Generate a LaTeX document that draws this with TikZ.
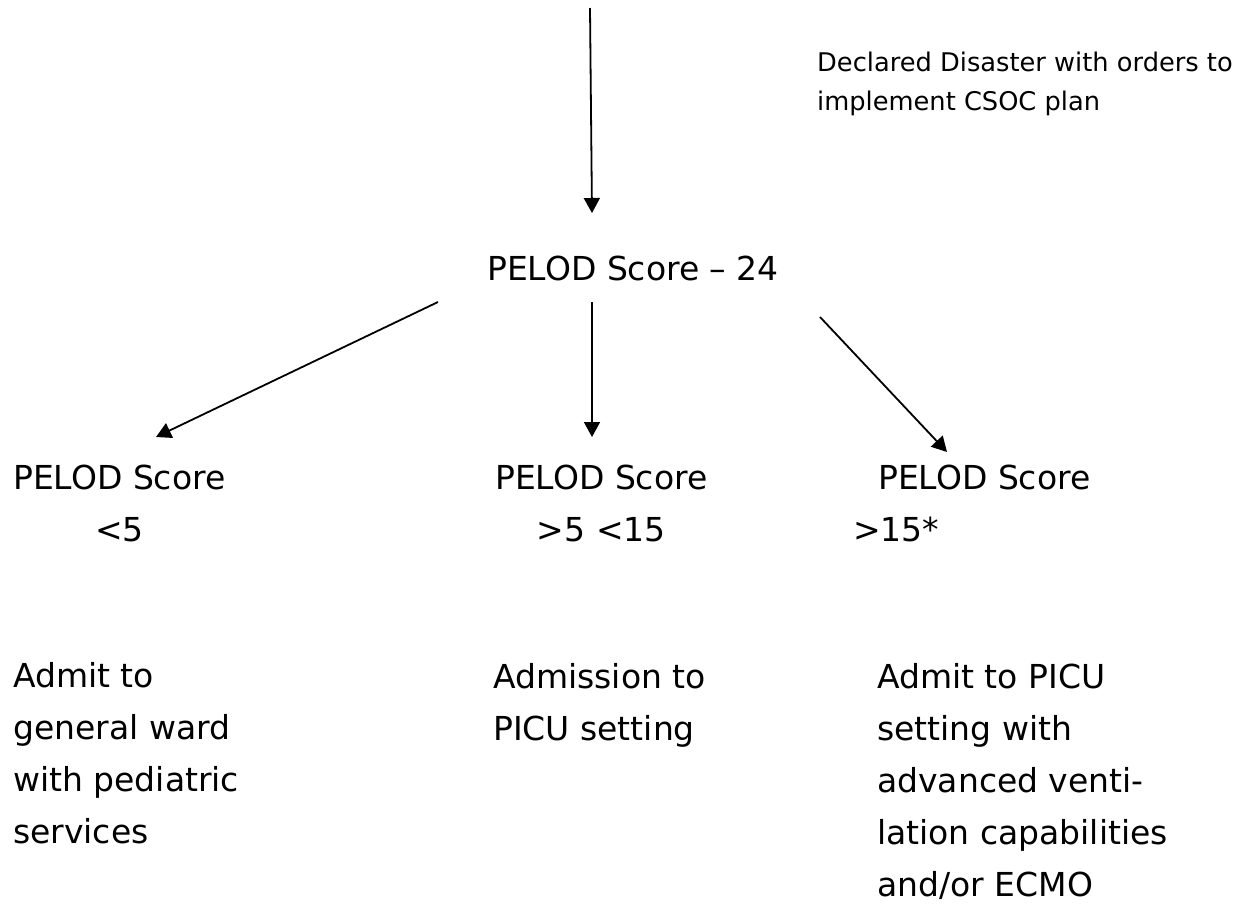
\documentclass[tikz,border=0pt]{standalone}
\usepackage{fontspec}
\setmainfont{DejaVu Sans}
\usetikzlibrary{arrows.meta}
\begin{document}
\begin{tikzpicture}[x=1pt,y=-1pt,
  big/.style={font=\fontsize{33}{52}\selectfont, inner sep=0pt, anchor=base west},
  small/.style={font=\fontsize{25.7}{39}\selectfont, inner sep=0pt, anchor=base west, align=left},
  arr/.style={line width=1.8pt, -{Triangle[length=15pt,width=16pt]}}]
\useasboundingbox[fill=white] (0,0) rectangle (1243,903);
% text (base anchor = baseline of the last line)
\node[small] (decl) at (817,110) {Declared Disaster with orders to\\implement CSOC plan};
\node[big] (s24) at (487,280) {PELOD Score -- 24};
\node[big, align=center] (lowS) at (13,541) {PELOD Score\\<5};
\node[big, align=center] (midS) at (495,541) {PELOD Score\\>5 <15};
\node[big, align=left] (highS) at (853,541) {\hspace*{25pt}PELOD Score\\>15*};
\node[big, align=left] (lowA) at (13,843) {Admit to\\general ward\\with pediatric\\services};
\node[big, align=left] (midA) at (493,740) {Admission to\\PICU setting};
\node[big, align=left] (highA) at (877,896) {Admit to PICU\\setting with\\advanced venti-\\lation capabilities\\and/or ECMO};
% connector ends
\coordinate (start) at (590,8);
\coordinate (s24in) at (592,213);
\coordinate (s24L) at (438,302);
\coordinate (s24M) at (592,302);
\coordinate (s24R) at (820,317);
\coordinate (lowin) at (156,437);
\coordinate (midin) at (592,437);
\coordinate (highin) at (947,452);
% connectors
\draw[arr] (start) -- (s24in);
\draw[arr] (s24L) -- (lowin);
\draw[arr] (s24M) -- (midin);
\draw[arr] (s24R) -- (highin);
\end{tikzpicture}
\end{document}
